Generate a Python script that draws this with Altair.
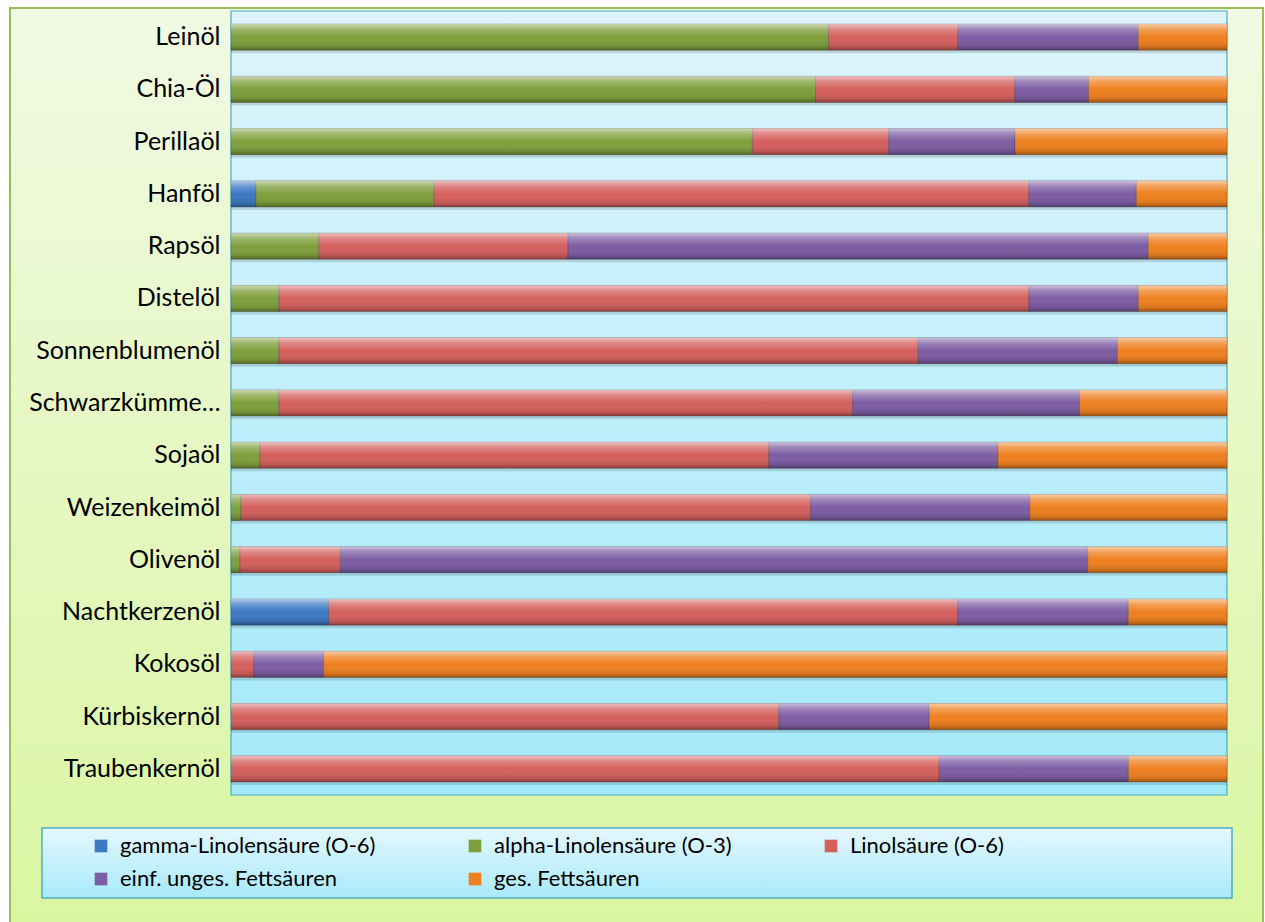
import altair as alt
import pandas as pd

categories = ["Leinöl", "Chia-Öl", "Perillaöl", "Hanföl", "Rapsöl", "Distelöl",
              "Sonnenblumenöl", "Schwarzkümmelöl", "Sojaöl", "Weizenkeimöl",
              "Olivenöl", "Nachtkerzenöl", "Kokosöl", "Kürbiskernöl", "Traubenkernöl"]

series = ["gamma-Linolensäure (O-6)", "alpha-Linolensäure (O-3)", "Linolsäure (O-6)",
          "einf. unges. Fettsäuren", "ges. Fettsäuren"]
colors = ["#3C78C3", "#7F9F3D", "#D4605D", "#7D5DA3", "#EE8020"]

gamma = [0, 0, 0, 2.5, 0, 0, 0, 0, 0, 0, 0, 9.8, 0, 0, 0]
alpha = [60.0, 58.7, 52.4, 17.9, 8.8, 4.8, 4.8, 4.8, 2.9, 1.0, 0.9, 0, 0, 0, 0]
linol = [13.0, 20.0, 13.7, 59.7, 25.0, 75.3, 64.2, 57.6, 51.1, 57.2, 10.1, 63.1, 2.3, 55.0, 71.1]
einf = [18.1, 7.4, 12.7, 10.8, 58.2, 11.0, 20.0, 22.8, 23.0, 22.0, 75.1, 17.1, 7.0, 15.1, 19.0]
ges = [8.9, 13.9, 21.3, 9.1, 7.9, 8.9, 11.0, 14.8, 23.0, 19.8, 14.0, 9.9, 90.7, 29.9, 9.9]

rows = []
for si, (name, vals) in enumerate(zip(series, [gamma, alpha, linol, einf, ges])):
    for cat, v in zip(categories, vals):
        if v > 0:
            rows.append({"Öl": cat, "Serie": name, "Wert": v, "idx": si})
df = pd.DataFrame(rows)

W, H = 996, 784
FONT = "Lato"

one = alt.Data(values=[{}])

outer_bg = alt.Chart(one).mark_rect(
    fill=alt.Gradient(gradient="linear", x1=0, y1=0, x2=0, y2=1,
                      stops=[alt.GradientStop(offset=0, color="#F1F9E3"),
                             alt.GradientStop(offset=1, color="#D9F6A0")]),
    stroke="#9BBB59", strokeWidth=2
).encode(x=alt.value(-221), x2=alt.value(1032), y=alt.value(-3), y2=alt.value(925))

plot_bg = alt.Chart(one).mark_rect(
    fill=alt.Gradient(gradient="linear", x1=0, y1=0, x2=0, y2=1,
                      stops=[alt.GradientStop(offset=0, color="#DEF4FC"),
                             alt.GradientStop(offset=1, color="#A3E9FA")]),
    stroke="#4BACC6", strokeWidth=1.2
).encode(x=alt.value(0), x2=alt.value(W), y=alt.value(0), y2=alt.value(H))

legend_bg = alt.Chart(one).mark_rect(
    fill=alt.Gradient(gradient="linear", x1=0, y1=0, x2=0, y2=1,
                      stops=[alt.GradientStop(offset=0, color="#E4F7FD"),
                             alt.GradientStop(offset=1, color="#A8EAFB")]),
    stroke="#4BACC6", strokeWidth=1.5
).encode(x=alt.value(-189), x2=alt.value(1001), y=alt.value(817), y2=alt.value(887))

yenc = alt.Y("Öl:N", sort=categories,
             scale=alt.Scale(paddingInner=0.5, paddingOuter=0.25),
             axis=alt.Axis(title=None, domain=False, ticks=False, labelPadding=11,
                           labelFontSize=25, labelFont=FONT, labelColor="#000000",
                           labelLimit=300, zindex=2,
                           labelExpr="datum.value == 'Schwarzkümmelöl' ? 'Schwarzkümme…' : datum.value"))
xenc = alt.X("Wert:Q", stack="normalize", axis=None,
             scale=alt.Scale(domain=[0, 1], nice=False))

shadow = alt.Chart(df).mark_bar(
    fill="#2a4a50", fillOpacity=0.18, yOffset=3
).encode(
    x=xenc, y=yenc,
    detail="Serie:N",
    order=alt.Order("idx:Q", sort="ascending"),
)

bars = alt.Chart(df).mark_bar(
    stroke="#3a3030", strokeOpacity=0.35, strokeWidth=0.8
).encode(
    x=xenc, y=yenc,
    color=alt.Color("Serie:N", sort=series,
                    scale=alt.Scale(domain=series, range=colors),
                    legend=alt.Legend(title=None, orient="none", legendX=-141, legendY=824,
                                      direction="horizontal",
                                      columns=3, columnPadding=88, rowPadding=11,
                                      symbolType="square", symbolSize=160,
                                      symbolStrokeWidth=0, symbolOpacity=1,
                                      labelFont=FONT, labelFontSize=22,
                                      labelColor="#000000", labelOffset=8,
                                      labelLimit=400, zindex=2)),
    order=alt.Order("idx:Q", sort="ascending"),
)

shine = alt.Chart(df).mark_bar(
    fill=alt.Gradient(gradient="linear", x1=0, y1=0, x2=0, y2=1,
                      stops=[alt.GradientStop(offset=0, color="rgba(255,255,255,0.6)"),
                             alt.GradientStop(offset=0.2, color="rgba(255,255,255,0.25)"),
                             alt.GradientStop(offset=0.5, color="rgba(255,255,255,0)"),
                             alt.GradientStop(offset=0.85, color="rgba(0,0,0,0.1)"),
                             alt.GradientStop(offset=1, color="rgba(0,0,0,0.35)")])
).encode(
    x=xenc, y=yenc,
    detail="Serie:N",
    order=alt.Order("idx:Q", sort="ascending"),
)

chart = alt.layer(outer_bg, plot_bg, legend_bg, shadow, bars, shine).properties(
    width=W, height=H,
    autosize=alt.AutoSizeParams(type="none"),
    padding={"left": 231, "top": 11, "right": 38, "bottom": 127},
    background="white",
).configure_view(stroke=None)

chart.save("out.html", embed_options={"renderer": "svg", "actions": False})
